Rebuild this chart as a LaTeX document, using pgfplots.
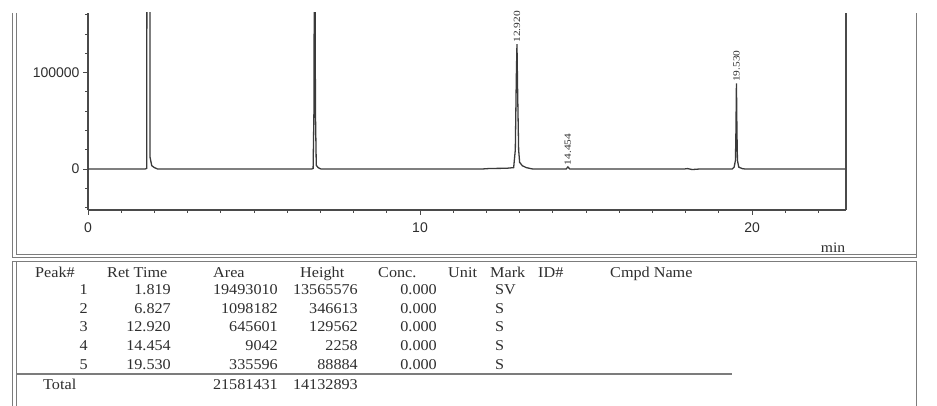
\documentclass[border=0pt]{standalone}
\usepackage{pgfplots}
\pgfplotsset{compat=1.18}
\usepackage{fontspec}
\setmainfont{Liberation Serif}
\newfontfamily\tabfont{Liberation Serif}[FakeStretch=1.08]
\newfontfamily\lblfont{Liberation Serif}[FakeStretch=1.2]
\newfontfamily\axfont{Liberation Sans}
\definecolor{framegray}{HTML}{7C7C7C}
\definecolor{axisgray}{HTML}{4A4A4A}
\definecolor{sig}{HTML}{3A3A3A}
\definecolor{txt}{HTML}{2E2E2E}

\begin{document}
\begin{tikzpicture}[x=1bp,y=1bp]
\useasboundingbox (0,0) rectangle (937,405);

% report frames: chromatogram panel and peak table panel
\begin{scope}[draw=framegray, line width=1.1bp]
  \draw (12.5,392) -- (12.5,147.5) -- (916.5,147.5) -- (916.5,392);
  \draw (16.5,392) -- (16.5,150.5) -- (916.5,150.5);
  \draw (12.5,-2) -- (12.5,143.5) -- (916.5,143.5) -- (916.5,-2);
  \draw (16.5,-2) -- (16.5,143.5);
\end{scope}

\begin{axis}[
  at={(88bp,195bp)}, anchor=south west,
  scale only axis, width=758bp, height=197bp,
  xmin=0, xmax=22.83, ymin=-42500, ymax=162000,
  axis lines*=left,
  axis line style={axisgray, line width=1.1bp},
  xtick={0,10,20}, ytick={0,100000},
  minor xtick={1,2,3,4,5,6,7,8,9,11,12,13,14,15,16,17,18,19,21,22},
  minor ytick={-40000,-20000,20000,40000,60000,80000,120000,140000,160000},
  tick align=outside, major tick length=5bp, minor tick length=3bp,
  tick style={axisgray, line width=1bp},
  scaled y ticks=false,
  yticklabel style={/pgf/number format/fixed, /pgf/number format/1000 sep={}},
  xticklabel style={yshift=-4bp},
  /pgf/number format/assume math mode=true,
  ticklabel style={font=\axfont\fontsize{14bp}{16bp}\selectfont, text=txt},
  clip mode=individual,
]
% detector signal (uV) against retention time (min)
\addplot[sig, line width=1.3bp] coordinates {
  (0,0) (1.72,0) (1.77,800) (1.795,1500000) (1.819,13565576) (1.845,2000000)
  (1.87,12000) (1.92,3500) (2.00,1500) (2.10,0)
  (6.73,0) (6.78,600) (6.805,60000) (6.827,346613) (6.85,60000) (6.875,4000)
  (6.93,1500) (7.02,0)
  (11.85,0) (12.10,600) (12.60,800) (12.82,1500) (12.87,20000) (12.90,95000)
  (12.920,129562) (12.94,80000) (12.97,20000) (13.00,7000) (13.08,3500)
  (13.20,1500) (13.40,0)
  (14.40,0) (14.454,2258) (14.51,0)
  (17.95,0) (18.05,500) (18.20,-500) (18.40,0)
  (19.40,0) (19.46,2000) (19.50,9000) (19.515,40000) (19.530,88884)
  (19.545,40000) (19.56,9000) (19.60,2000) (19.70,500) (19.80,0)
  (22.83,0)
};
% right-hand border of the plot area
\draw[axisgray, line width=1.1bp] (rel axis cs:1,0) -- (rel axis cs:1,1);
% retention time labels
\begin{scope}[every node/.style={rotate=90, anchor=west, inner sep=1.5bp,
    text=txt, font=\lblfont\fontsize{9.5bp}{10bp}\selectfont}]
  \node at (axis cs:12.920,129562) {12.920};
  \node at (axis cs:14.454,2258) {14.454};
  \node at (axis cs:19.530,88884) {19.530};
\end{scope}
\end{axis}

\node[text=txt, font=\tabfont\fontsize{14.5bp}{16bp}\selectfont] at (833,157) {min};

% peak table
\begin{scope}[every node/.style={inner sep=0pt, text=txt,
    font=\tabfont\fontsize{15bp}{17bp}\selectfont}]
  \node[anchor=base west] at (35,128) {Peak\#};
  \node[anchor=base west] at (107,128) {Ret Time};
  \node[anchor=base west] at (213,128) {Area};
  \node[anchor=base west] at (300,128) {Height};
  \node[anchor=base west] at (378,128) {Conc.};
  \node[anchor=base west] at (448,128) {Unit};
  \node[anchor=base west] at (490,128) {Mark};
  \node[anchor=base west] at (538,128) {ID\#};
  \node[anchor=base west] at (610,128) {Cmpd Name};
  \foreach \pk/\rt/\ar/\hg/\mk [count=\i] in {
      1/1.819/19493010/13565576/SV,
      2/6.827/1098182/346613/S,
      3/12.920/645601/129562/S,
      4/14.454/9042/2258/S,
      5/19.530/335596/88884/S} {
    \pgfmathsetmacro\yy{110.5-18.7*(\i-1)}
    \node[anchor=base east] at (88,\yy) {\pk};
    \node[anchor=base east] at (171,\yy) {\rt};
    \node[anchor=base east] at (278,\yy) {\ar};
    \node[anchor=base east] at (358,\yy) {\hg};
    \node[anchor=base east] at (437,\yy) {0.000};
    \node[anchor=base west] at (495,\yy) {\mk};
  }
  \node[anchor=base west] at (43,16) {Total};
  \node[anchor=base east] at (278,16) {21581431};
  \node[anchor=base east] at (358,16) {14132893};
\end{scope}
\draw[framegray, line width=1.3bp] (16.5,31) -- (732,31);
\end{tikzpicture}
\end{document}
